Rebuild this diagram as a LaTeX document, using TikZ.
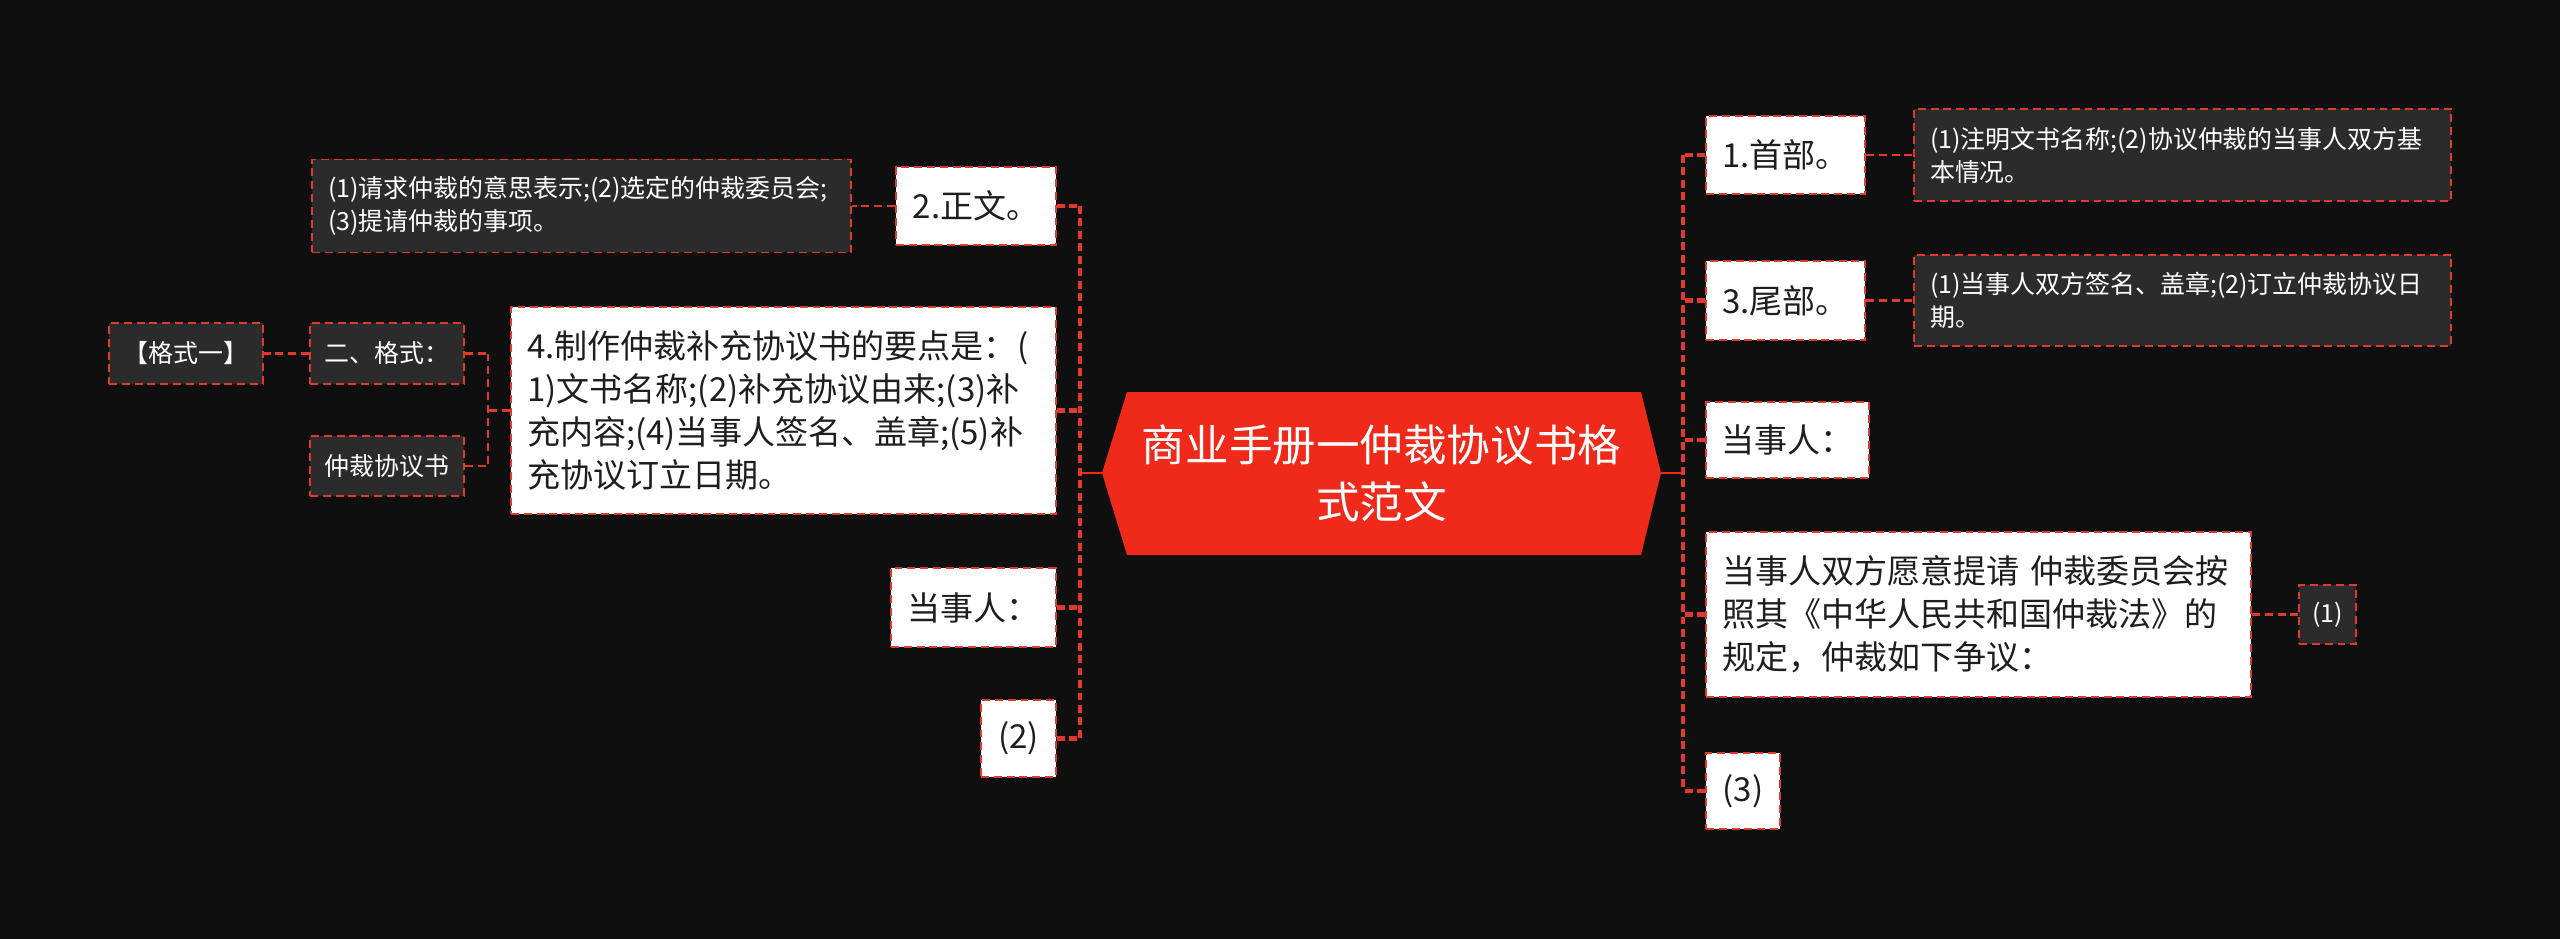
\documentclass[tikz,border=0pt]{standalone}
\usepackage{fontspec}
\setmainfont{Noto Sans CJK SC}

\definecolor{bgdark}{HTML}{0F0F0F}
\definecolor{boxdark}{HTML}{2B2B2B}
\definecolor{linered}{HTML}{E0392E}
\definecolor{rootred}{HTML}{EF2A1B}
\definecolor{txtdark}{HTML}{1E1E1E}

\begin{document}
\begin{tikzpicture}[x=0.02cm, y=-0.02cm,
  link/.style={linered, line width=2.3pt, dash pattern=on 4.5pt off 2.6pt},
  rootlink/.style={rootred, line width=1.2pt},
  sublink/.style={linered, line width=1.3pt, dash pattern=on 4.5pt off 2.8pt},
  wbox/.style={fill=white, draw=linered, line width=1.1pt, dash pattern=on 4.5pt off 2.8pt,
    text=txtdark, font=\fontsize{18.8}{24.5}\selectfont, inner sep=0pt, align=left},
  dbox/.style={fill=boxdark, draw=linered, line width=1.1pt, dash pattern=on 4.5pt off 2.8pt,
    text=white, font=\fontsize{14.2}{18.8}\selectfont, inner sep=0pt, align=left},
  sz/.style 2 args={minimum width=#1*0.02cm, minimum height=#2*0.02cm}]
  \fill[bgdark] (0,0) rectangle (2560,939);

  % root
  \fill[rootred] (1102,473) -- (1127,392) -- (1641,392) -- (1661,473) -- (1641,555) -- (1127,555) -- cycle;
  \node[sz={559}{163}, text=white, text width=10cm, align=center,
    font=\fontsize{24.8}{32.5}\selectfont] (root) at (1381.5,473) {商业手册一仲裁协议书格\\式范文};

  % left side
  \node[wbox, sz={160}{78}] (zw) at (976,206) {2.正文。};
  \node[dbox, sz={539}{93}, text width=10.14cm] (zwd) at (581.5,206) {(1)请求仲裁的意思表示;(2)选定的仲裁委员会;\\(3)提请仲裁的事项。};
  \node[wbox, sz={545}{207}, text width=10.26cm] (yd) at (783.5,410.5) {4.制作仲裁补充协议书的要点是：(\\1)文书名称;(2)补充协议由来;(3)补\\充内容;(4)当事人签名、盖章;(5)补\\充协议订立日期。};
  \node[dbox, sz={154}{61}] (gs) at (387,353.5) {二、格式：};
  \node[dbox, sz={154}{60}] (xys) at (387,466) {仲裁协议书};
  \node[dbox, sz={154}{61}] (gs1) at (186,353.5) {【格式一】};
  \node[wbox, sz={165}{79}] (dsrl) at (973.5,607.5) {当事人：};
  \node[wbox, sz={75}{77}] (two) at (1018.5,738.5) {(2)};

  % right side
  \node[wbox, sz={159}{78}] (sb) at (1785.5,155) {1.首部。};
  \node[dbox, sz={537}{92}, text width=10.1cm] (sbd) at (2182.5,155) {(1)注明文书名称;(2)协议仲裁的当事人双方基\\本情况。};
  \node[wbox, sz={159}{79}] (wb) at (1785.5,300.5) {3.尾部。};
  \node[dbox, sz={537}{91}, text width=10.1cm] (wbd) at (2182.5,300.5) {(1)当事人双方签名、盖章;(2)订立仲裁协议日\\期。};
  \node[wbox, sz={163}{76}] (dsrr) at (1787.5,440) {当事人：};
  \node[wbox, sz={545}{165}, text width=10.26cm] (sq) at (1978.5,614.5) {当事人双方愿意提请 仲裁委员会按\\照其《中华人民共和国仲裁法》的\\规定，仲裁如下争议：};
  \node[dbox, sz={57}{59}] (one) at (2327.5,614.5) {(1)};
  \node[wbox, sz={74}{76}] (three) at (1743,791) {(3)};

  \coordinate (lt) at (1080,473);
  \coordinate (rt) at (1683,473);
  \coordinate (mt) at (488,410.5);

  % connectors, left
  \draw[rootlink] (root.west) -- (lt);
  \draw[link] (zw.east -| lt) -- (two.east -| lt);
  \draw[link] (zw.east) -- (zw.east -| lt);
  \draw[link] (yd.east) -- (yd.east -| lt);
  \draw[link] (dsrl.east) -- (dsrl.east -| lt);
  \draw[link] (two.east) -- (two.east -| lt);
  \draw[sublink] (zw.west) -- (zwd.east);
  \draw[sublink] (yd.west) -- (mt);
  \draw[sublink] (gs.east -| mt) -- (xys.east -| mt);
  \draw[sublink] (gs.east) -- (gs.east -| mt);
  \draw[sublink] (xys.east) -- (xys.east -| mt);
  \draw[sublink] (gs.west) -- (gs1.east);

  % connectors, right
  \draw[rootlink] (root.east) -- (rt);
  \draw[link] (sb.west -| rt) -- (three.west -| rt);
  \draw[link] (sb.west) -- (sb.west -| rt);
  \draw[link] (wb.west) -- (wb.west -| rt);
  \draw[link] (dsrr.west) -- (dsrr.west -| rt);
  \draw[link] (sq.west) -- (sq.west -| rt);
  \draw[link] (three.west) -- (three.west -| rt);
  \draw[sublink] (sb.east) -- (sbd.west);
  \draw[sublink] (wb.east) -- (wbd.west);
  \draw[sublink] (sq.east) -- (one.west);
\end{tikzpicture}
\end{document}
